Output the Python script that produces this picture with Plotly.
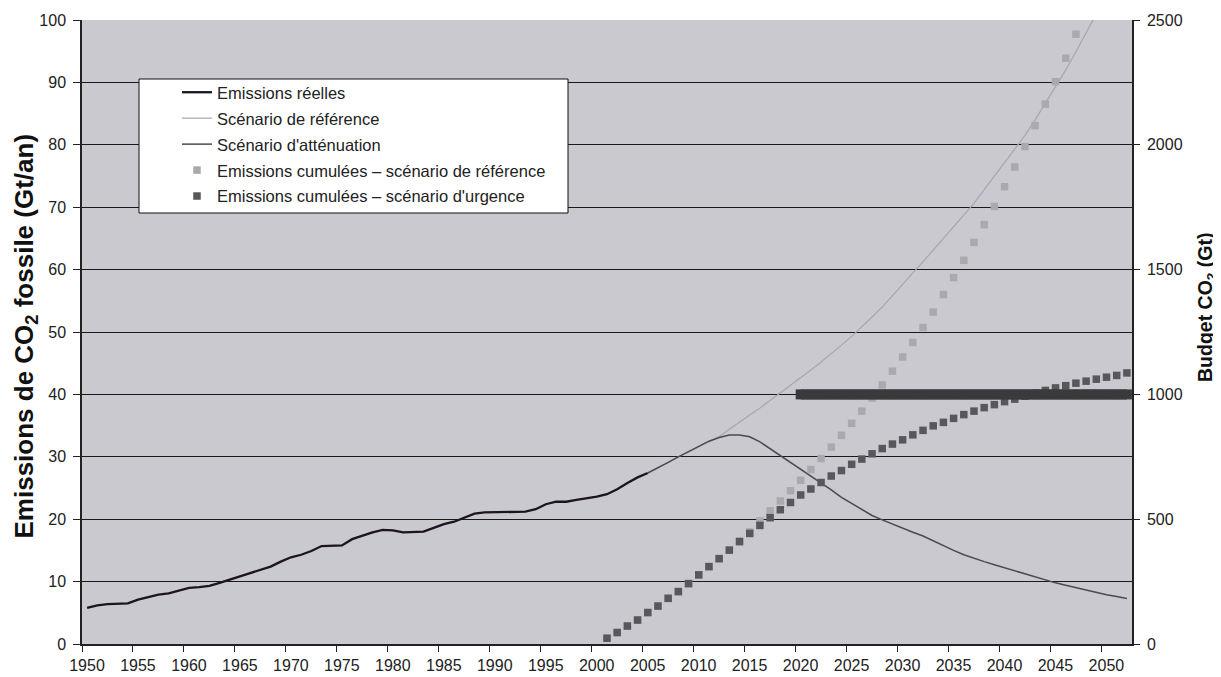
import plotly.graph_objects as go

# ---------------- data ----------------
real_years = list(range(1950, 2006))
real_values = [5.8, 6.2, 6.4, 6.4, 6.5, 7.1, 7.5, 7.9, 8.1, 8.6,
               9.0, 9.1, 9.3, 9.8, 10.3, 10.8, 11.3, 11.8, 12.4, 13.2,
               13.9, 14.3, 14.9, 15.7, 15.7, 15.8, 16.8, 17.4, 17.9, 18.3,
               18.2, 17.9, 17.9, 18.0, 18.6, 19.2, 19.6, 20.2, 20.9, 21.1,
               21.1, 21.1, 21.1, 21.2, 21.6, 22.4, 22.8, 22.8, 23.1, 23.3,
               23.6, 24.0, 24.8, 25.8, 26.7, 27.4]

ref_years = list(range(2005, 2050))
ref_values = [27.4, 28.2, 29.1, 30.0, 30.8, 31.6, 32.5, 33.2, 34.4, 35.6,
              36.7, 37.8, 39.0, 40.3, 41.5, 42.7, 43.9, 45.2, 46.5, 47.9,
              49.3, 50.8, 52.4, 54.0, 55.8, 57.6, 59.4, 61.2, 63.1, 65.0,
              66.9, 68.7, 70.6, 72.8, 75.0, 77.1, 79.2, 81.5, 84.0, 86.6,
              89.2, 92.0, 94.9, 97.9, 101.0]

att_years = list(range(2005, 2053))
att_values = [27.4, 28.2, 29.1, 30.0, 30.8, 31.6, 32.5, 33.1, 33.5, 33.5,
              33.2, 32.4, 31.3, 30.3, 29.2, 28.1, 27.0, 25.8, 24.7, 23.5,
              22.5, 21.5, 20.6, 19.9, 19.2, 18.5, 17.9, 17.3, 16.5, 15.7,
              15.0, 14.3, 13.7, 13.2, 12.7, 12.2, 11.7, 11.2, 10.7, 10.2,
              9.8, 9.4, 9.0, 8.6, 8.2, 7.9, 7.6, 7.3]

cum_ref_years = list(range(2001, 2048))
cum_ref_values = [23, 46, 72, 96, 126, 152, 183, 210, 242, 277,
                  310, 342, 377, 413, 449, 493, 534, 573, 614, 656,
                  699, 743, 789, 836, 884, 933, 985, 1038, 1093, 1150,
                  1208, 1268, 1330, 1400, 1468, 1537, 1609, 1680, 1753, 1832,
                  1911, 1993, 2077, 2163, 2253, 2347, 2443]

cum_urg_years = list(range(2001, 2053))
cum_urg_values = [23, 46, 72, 96, 126, 152, 183, 210, 242, 277,
                  310, 342, 376, 410, 443, 475, 506, 538, 567, 597,
                  621, 647, 673, 695, 720, 741, 762, 783, 801, 818,
                  838, 856, 874, 888, 904, 919, 933, 947, 959, 971,
                  981, 993, 1005, 1016, 1026, 1035, 1045, 1053, 1061, 1069,
                  1076, 1086]

budget_years = list(range(2020, 2053))
budget_value = 1000

label_years = list(range(1950, 2051, 5))
left_ticks = list(range(0, 101, 10))
right_ticks = list(range(0, 2501, 500))

FONT = "Liberation Sans, Arial, sans-serif"

# page body has an 8px margin: the figure is sized/margined to compensate
W, H = 1213, 669
ML, MR, MT, MB = 74, 89, 12, 33
PW = W - ML - MR
PH = H - MT - MB
OFF = 8


def px_x(x):
    return (x - OFF - ML) / PW


def px_y(y):
    return (H - MB - (y - OFF)) / PH


fig = go.Figure()

fig.add_trace(go.Scatter(x=real_years, y=real_values, mode="lines",
                         name="Emissions réelles", legendgroup="a",
                         line=dict(color="#1c1420", width=2.3)))
fig.add_trace(go.Scatter(x=ref_years, y=ref_values, mode="lines",
                         name="Scénario de référence", legendgroup="b",
                         line=dict(color="#a6a6ae", width=1.2)))
fig.add_trace(go.Scatter(x=att_years, y=att_values, mode="lines",
                         name="Scénario d'atténuation", legendgroup="c",
                         line=dict(color="#4a4a50", width=1.5)))
fig.add_trace(go.Scatter(x=cum_ref_years, y=cum_ref_values, mode="markers",
                         name="Emissions cumulées – scénario de référence",
                         legendgroup="d", yaxis="y2",
                         marker=dict(symbol="square", size=7.5, color="#aaaaae",
                                     line=dict(width=0))))
fig.add_trace(go.Scatter(x=cum_urg_years, y=cum_urg_values, mode="markers",
                         name="Emissions cumulées – scénario d'urgence",
                         legendgroup="e", yaxis="y2",
                         marker=dict(symbol="square", size=7.5, color="#58585c",
                                     line=dict(width=0))))
fig.add_trace(go.Scatter(x=budget_years, y=[budget_value] * len(budget_years),
                         mode="lines+markers", yaxis="y2", showlegend=False,
                         line=dict(color="#3a3a3c", width=10),
                         marker=dict(symbol="square", size=10, color="#3a3a3c",
                                     line=dict(width=0))))

# legend box
fig.add_shape(type="rect", xref="paper", yref="paper",
              x0=px_x(139), x1=px_x(568), y0=px_y(213), y1=px_y(79),
              fillcolor="white", line=dict(color="#111", width=1), layer="above")

fig.update_layout(
    width=W, height=H,
    autosize=False,
    margin=dict(l=ML, r=MR, t=MT, b=MB, autoexpand=False),
    paper_bgcolor="white",
    plot_bgcolor="#c9c9cf",
    font=dict(family=FONT, size=16, color="#222"),
    showlegend=True,
    legend=dict(x=px_x(177), y=px_y(75), xanchor="left", yanchor="top",
                bgcolor="rgba(0,0,0,0)", borderwidth=0,
                font=dict(family=FONT, size=16.5, color="#222"),
                traceorder="grouped", tracegroupgap=1.5),
    xaxis=dict(range=[1949.5, 2052.5],
               tickvals=[y - 0.5 for y in label_years],
               ticktext=[str(y) for y in label_years],
               ticklabelshift=5, automargin=False,
               ticks="outside", ticklen=6, tickcolor="#222",
               showline=True, linecolor="#222", linewidth=1.5,
               showgrid=False, zeroline=False,
               tickfont=dict(size=16, color="#222")),
    yaxis=dict(range=[0, 100], tickvals=left_ticks, automargin=False,
               ticks="outside", ticklen=7, tickcolor="#222",
               showline=True, linecolor="#222", linewidth=1.5,
               showgrid=True, gridcolor="#1a1a1a", gridwidth=1.3,
               zeroline=False, ticklabelstandoff=4,
               tickfont=dict(size=16, color="#222")),
    yaxis2=dict(range=[0, 2500], tickvals=right_ticks, automargin=False,
                overlaying="y", side="right",
                ticks="outside", ticklen=6, tickcolor="#222",
                showline=True, linecolor="#222", linewidth=1.5,
                showgrid=False, zeroline=False, ticklabelstandoff=4,
                tickfont=dict(size=16, color="#222")),
)

fig.add_annotation(text="Emissions de CO<sub>2</sub> fossile (Gt/an)",
                   xref="paper", yref="paper",
                   x=px_x(24.5), y=px_y(336),
                   xanchor="center", yanchor="middle", textangle=-90,
                   showarrow=False,
                   font=dict(family=FONT, size=26, color="#111", weight="bold"))
fig.add_annotation(text="Budget CO<sub>2</sub> (Gt)",
                   xref="paper", yref="paper",
                   x=px_x(1206), y=px_y(307),
                   xanchor="center", yanchor="middle", textangle=-90,
                   showarrow=False,
                   font=dict(family=FONT, size=19.5, color="#111", weight="bold"))

fig.write_html("out.html")
